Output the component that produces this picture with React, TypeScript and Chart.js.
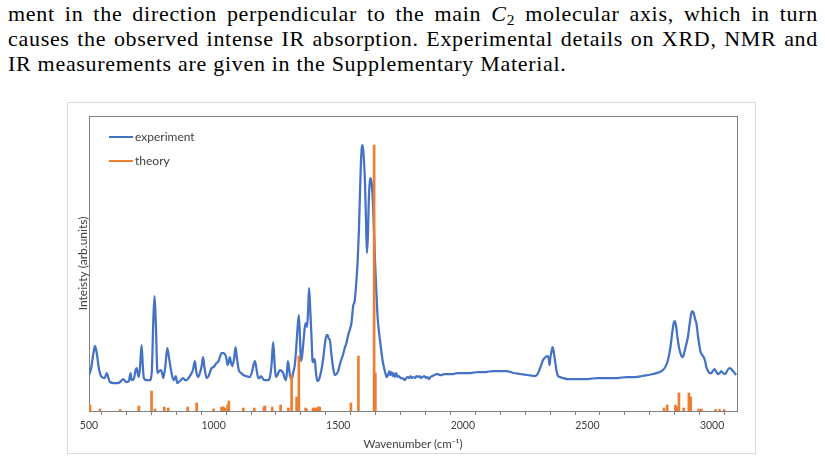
import React, { useEffect, useRef } from "react";
import { Chart, registerables } from "chart.js";

Chart.register(...registerables);

// Measured IR spectrum (wavenumber in cm^-1, intensity in arbitrary units)
const expWavenumber = [
  500, 508, 516, 524, 531, 540, 551, 563, 571, 578, 584, 600, 615, 625, 637, 645, 651, 660, 667, 671,
  680, 686, 691, 696, 700, 705, 711, 716, 720, 730, 744, 752, 758, 763, 768, 775, 782, 789, 794, 798,
  806, 814, 820, 831, 836, 841, 848, 854, 865, 878, 885, 892, 902, 912, 918, 925, 930, 938, 945, 952,
  958, 963, 972, 980, 992, 1000, 1012, 1020, 1032, 1040, 1045, 1050, 1056, 1060, 1065, 1070, 1075, 1082, 1088, 1094,
  1101, 1110, 1119, 1130, 1145, 1155, 1160, 1166, 1172, 1179, 1184, 1190, 1196, 1202, 1212, 1219, 1226, 1232, 1239, 1245,
  1250, 1258, 1266, 1273, 1279, 1285, 1290, 1294, 1298, 1303, 1309, 1315, 1319, 1325, 1330, 1336, 1342, 1347, 1350, 1355,
  1360, 1366, 1370, 1375, 1379, 1383, 1388, 1393, 1397, 1399, 1403, 1406, 1410, 1416, 1422, 1430, 1439, 1446, 1453, 1458,
  1462, 1466, 1472, 1479, 1486, 1493, 1500, 1506, 1512, 1519, 1526, 1533, 1540, 1546, 1553, 1560, 1566, 1573, 1578, 1583,
  1587, 1591, 1595, 1598, 1602, 1607, 1611, 1615, 1619, 1623, 1627, 1630, 1634, 1638, 1643, 1647, 1652, 1658, 1664, 1671,
  1677, 1683, 1688, 1694, 1700, 1705, 1708, 1714, 1718, 1722, 1727, 1733, 1738, 1744, 1750, 1756, 1762, 1767, 1773, 1779,
  1784, 1790, 1795, 1801, 1808, 1814, 1820, 1826, 1832, 1838, 1846, 1852, 1858, 1864, 1870, 1878, 1886, 1894, 1900, 1908,
  1915, 1925, 1940, 1960, 1980, 2001, 2030, 2060, 2090, 2120, 2150, 2175, 2202, 2230, 2260, 2289, 2300, 2310, 2322, 2332,
  2340, 2345, 2348, 2351, 2356, 2360, 2364, 2370, 2376, 2382, 2389, 2400, 2420, 2442, 2470, 2500, 2540, 2580, 2620, 2656,
  2690, 2720, 2763, 2790, 2810, 2822, 2833, 2840, 2846, 2850, 2855, 2861, 2867, 2874, 2880, 2883, 2888, 2895, 2903, 2910,
  2916, 2921, 2926, 2932, 2937, 2944, 2950, 2954, 2960, 2966, 2972, 2977, 2984, 2990, 2997, 3003, 3010, 3017, 3024, 3031,
  3037, 3044, 3050, 3056, 3062, 3070, 3077, 3083, 3090, 3097,
];
const expIntensity = [
  36, 42, 55, 65, 58, 42, 34, 33, 38, 33, 29, 28, 28, 29, 32, 30, 29, 30, 38, 31,
  32, 40, 43, 37, 34, 45, 66, 45, 33, 31, 31, 40, 90, 115, 88, 38, 40, 41, 37, 33,
  44, 63, 55, 38, 33, 31, 35, 28, 30, 33, 31, 31, 34, 38, 42, 50, 40, 34, 38, 45,
  54, 44, 33, 35, 43, 44, 48, 50, 58, 58, 57, 54, 46, 48, 54, 48, 45, 52, 64, 52,
  41, 38, 36, 35, 34, 40, 46, 50, 42, 33, 33, 35, 33, 31, 31, 31, 34, 45, 69, 46,
  34, 37, 41, 40, 38, 33, 31, 38, 50, 42, 33, 33, 38, 45, 58, 80, 96, 70, 50, 55,
  68, 84, 88, 84, 100, 123, 100, 73, 50, 49, 52, 51, 40, 30, 31, 38, 51, 66, 76, 76,
  72, 72, 58, 44, 36, 37, 40, 46, 51, 56, 63, 68, 76, 81, 88, 105, 110, 130, 150, 181,
  215, 248, 264, 266, 255, 231, 195, 158, 175, 214, 230, 233, 228, 214, 185, 154, 125, 94, 78, 64,
  52, 44, 39, 34, 36, 40, 36, 39, 35, 38, 34, 38, 34, 35, 33, 33, 32, 31, 33, 34,
  33, 35, 33, 34, 33, 35, 34, 35, 33, 34, 35, 33, 34, 32, 34, 35, 36, 37, 37, 36,
  36, 37, 37, 37, 38, 38, 38, 39, 39, 40, 40, 40, 38, 37, 36, 35, 37, 43, 51, 54,
  55, 52, 46, 53, 60, 64, 60, 50, 40, 35, 34, 33, 32, 32, 32, 32, 33, 33, 33, 34,
  34, 35, 37, 39, 43, 50, 64, 78, 88, 90, 86, 74, 64, 57, 54, 54, 58, 65, 74, 87,
  97, 100, 98, 92, 88, 74, 64, 59, 56, 54, 50, 44, 40, 38, 38, 40, 42, 39, 37, 38,
  40, 38, 37, 38, 41, 43, 42, 40, 38, 36,
];

// Calculated vibrational lines (stick spectrum)
const calcWavenumber = [
  504, 544, 625, 700, 751, 765, 802, 818, 896, 932, 1000, 1032, 1039, 1045, 1056, 1061, 1119, 1163, 1202, 1206,
  1235, 1269, 1300, 1313, 1333, 1342, 1369, 1373, 1399, 1406, 1413, 1420, 1426, 1551, 1581, 1644, 1649,
  2807, 2820, 2853, 2859, 2867, 2886, 2907, 2914, 2946, 2957, 3014, 3030, 3048,
];
const calcIntensity = [
  6, 2, 1.5, 5, 20, 2, 4, 3, 4, 8, 2, 4, 4, 3, 6, 10, 3, 3, 4, 5,
  4, 6, 3, 36, 14, 55, 3, 2, 3, 3, 3, 4, 4, 8, 55, 266, 38,
  3, 6, 6, 4, 18, 3, 18, 14, 2, 2, 1.5, 1.5, 1.5,
];

const seriesLabels = ["experiment", "theory"];
const seriesColors = ["#4472C4", "#ED7D31"];

const xMin = 500;
const xMax = 3100;
const xStep = 100;
const xLabelEvery = 500;
const yMax = 295;

const xTitle = "Wavenumber (cm\u207B\u00B9)";
const yTitle = "Inteisty (arb.units)";

const axisColor = "#808080";
const textColor = "#404040";
const uiFont = "Lato, 'Open Sans', sans-serif";

// Outline around the plotting area
const plotBoxPlugin = {
  id: "plotBox",
  beforeDatasetsDraw(chart: any) {
    const { ctx, chartArea } = chart;
    ctx.save();
    ctx.strokeStyle = axisColor;
    ctx.lineWidth = 1;
    ctx.strokeRect(
      Math.round(chartArea.left) + 0.5,
      Math.round(chartArea.top) + 0.5,
      Math.round(chartArea.right - chartArea.left),
      Math.round(chartArea.bottom - chartArea.top)
    );
    ctx.restore();
  },
};

// Line-sample legend in the upper-left corner of the plot
const insetLegendPlugin = {
  id: "insetLegend",
  afterDraw(chart: any) {
    const { ctx, chartArea } = chart;
    ctx.save();
    ctx.font = `12px ${uiFont}`;
    ctx.textBaseline = "middle";
    chart.data.datasets.forEach((ds: any, i: number) => {
      const y = chartArea.top + 21 + i * 24;
      const x0 = chartArea.left + 20;
      ctx.strokeStyle = ds.legendColor;
      ctx.lineWidth = 2;
      ctx.beginPath();
      ctx.moveTo(x0, y);
      ctx.lineTo(x0 + 24, y);
      ctx.stroke();
      ctx.fillStyle = textColor;
      ctx.fillText(ds.label, x0 + 26, y);
    });
    ctx.restore();
  },
};

function SpectrumChart() {
  const canvasRef = useRef<HTMLCanvasElement>(null);

  useEffect(() => {
    const canvas = canvasRef.current;
    if (!canvas) return;
    const chart = new Chart(canvas, {
      type: "line",
      data: {
        datasets: [
          {
            type: "line",
            label: seriesLabels[0],
            legendColor: seriesColors[0],
            data: expWavenumber.map((x, i) => ({ x, y: expIntensity[i] })),
            borderColor: seriesColors[0],
            borderWidth: 2.25,
            pointRadius: 0,
            cubicInterpolationMode: "monotone",
            order: 1,
          } as any,
          {
            type: "bar",
            label: seriesLabels[1],
            legendColor: seriesColors[1],
            data: calcWavenumber.map((x, i) => ({ x, y: calcIntensity[i] })),
            backgroundColor: seriesColors[1],
            borderWidth: 0,
            barThickness: 2,
            order: 0,
          } as any,
        ],
      },
      options: {
        animation: false,
        responsive: false,
        maintainAspectRatio: false,
        devicePixelRatio: 1,
        layout: { padding: { top: 13, right: 18, bottom: 0, left: 0 } },
        plugins: {
          legend: { display: false },
          tooltip: { enabled: false },
        },
        scales: {
          x: {
            type: "linear",
            min: xMin,
            max: xMax,
            offset: false,
            afterFit: (scale: any) => {
              scale.height = 42;
            },
            grid: {
              display: true,
              drawOnChartArea: false,
              drawTicks: true,
              tickLength: 4,
              color: axisColor,
            },
            border: { display: true, color: axisColor },
            ticks: {
              stepSize: xStep,
              autoSkip: false,
              maxRotation: 0,
              padding: 4,
              color: textColor,
              font: { family: uiFont, size: 10.5 },
              callback: (v: any) => (Number(v) % xLabelEvery === 0 ? String(v) : ""),
            },
            title: {
              display: true,
              text: xTitle,
              color: textColor,
              font: { family: uiFont, size: 11.5 },
              padding: { top: 0, bottom: 2 },
            },
          },
          y: {
            type: "linear",
            min: 0,
            max: yMax,
            afterFit: (scale: any) => {
              scale.width = 21;
            },
            grid: { display: false },
            border: { display: false },
            ticks: { display: false },
            title: {
              display: true,
              text: yTitle,
              color: textColor,
              font: { family: uiFont, size: 12 },
              padding: { top: 8, bottom: 0 },
            },
          },
        },
      } as any,
      plugins: [plotBoxPlugin, insetLegendPlugin],
    });
    return () => chart.destroy();
  }, []);

  return <canvas ref={canvasRef} width={687} height={350} style={{ display: "block" }} />;
}

const lineBase: React.CSSProperties = {
  whiteSpace: "nowrap",
  textAlign: "justify",
};

export default function App() {
  return (
    <>
      <div
        style={{
          position: "absolute",
          left: 8,
          top: 1,
          width: 810,
          fontFamily: "'Liberation Serif', 'DejaVu Serif', serif",
          fontSize: 22,
          lineHeight: "25px",
          letterSpacing: 0.7,
          color: "#000",
        }}
      >
        <div style={{ ...lineBase, textAlignLast: "justify" }}>
          ment in the direction perpendicular to the main <i>C</i>
          <sub style={{ fontSize: "0.7em", lineHeight: 0, verticalAlign: "-0.25em" }}>2</sub> molecular axis, which in turn
        </div>
        <div style={{ ...lineBase, textAlignLast: "justify" }}>
          causes the observed intense IR absorption. Experimental details on XRD, NMR and
        </div>
        <div style={{ ...lineBase, textAlign: "left" }}>
          IR measurements are given in the Supplementary Material.
        </div>
      </div>
      <div
        style={{
          position: "absolute",
          left: 67,
          top: 102,
          width: 689,
          height: 352,
          boxSizing: "border-box",
          border: "1px solid #d9d9d9",
          background: "#fff",
        }}
      >
        <SpectrumChart />
      </div>
    </>
  );
}
